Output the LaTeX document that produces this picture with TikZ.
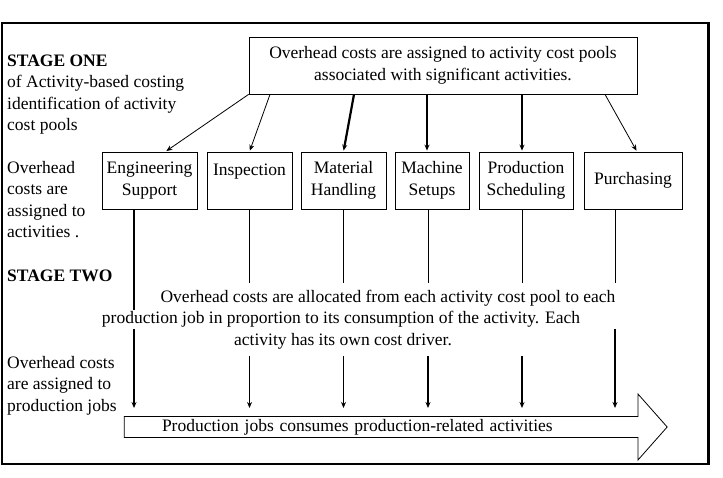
\documentclass[tikz,border=0pt]{standalone}
\usepackage{fontspec}
\setmainfont{Liberation Serif}
\usetikzlibrary{arrows.meta,shapes.arrows}

\begin{document}
\begin{tikzpicture}[->,>={Stealth[length=6pt,width=5pt]},x=1pt,y=-1pt,
  font=\fontsize{17.5}{21.5}\selectfont,
  box/.style={draw,-,line width=0.8pt,align=center,minimum height=57pt,inner sep=1pt},
  side text/.style={align=left,anchor=base west,inner sep=0pt},
  line text/.style={anchor=base,inner sep=1pt},
  thin arrow/.style={line width=0.8pt,shorten >=1pt},
  thick arrow/.style={line width=2.2pt,shorten >=1pt},
  upper line/.style={-,line width=0.8pt,shorten >=6pt},
  lower arrow/.style={line width=1.6pt,shorten <=6pt,shorten >=19pt}]

  \useasboundingbox (0,0) rectangle (723,478);
  \draw[-,line width=1.2pt] (2,23) rectangle (709,464);
  \draw[-,line width=2.6pt] (708,23) -- (708,464);

  \node[box,minimum width=388pt] (pool) at (443,65.5) {Overhead costs are assigned to activity cost pools\\associated with significant activities.};

  \node[box,minimum width=95pt] (eng) at (149.5,180.5) {Engineering\\Support};
  \node[box,minimum width=85pt] (insp) at (249.5,180.5) {Inspection\\\mbox{}};
  \node[box,minimum width=85pt] (mat) at (343.5,180.5) {Material\\Handling};
  \node[box,minimum width=74pt] (mach) at (432,180.5) {Machine\\Setups};
  \node[box,minimum width=94pt] (prod) at (526,180.5) {Production\\Scheduling};
  \node[box,minimum width=98pt] (purch) at (633,180.5) {Purchasing};

  % base anchor sits on the last line
  \node[side text] (stage1) at (7,131) {\textbf{STAGE ONE}\\of Activity-based costing\\identification of activity\\cost pools};
  \node[side text] (toacts) at (7,238) {Overhead\\costs are\\assigned to\\activities .};
  \node[side text] (stage2) at (7,282) {\textbf{STAGE TWO}};
  \node[side text] (tojobs) at (7,411) {Overhead costs\\are assigned to\\production jobs};

  \node[line text] (allocA) at (388,303) {Overhead costs are allocated from each activity cost pool to each};
  \node[line text] (allocB) at (341,324) {production job in proportion to its consumption of the activity. Each};
  \node[line text] (allocC) at (343,345) {activity has its own cost driver.};

  \node[single arrow,draw,-,line width=0.8pt,minimum height=543pt,minimum width=66pt,
    single arrow head extend=22pt,single arrow tip angle=97,inner sep=2pt,
    text width=458pt,align=left] (jobs) at (391,427) {Production jobs consumes production-related activities};

  % stage one
  \path[thin arrow]
    (pool.south west) edge ([xshift=16pt]eng.north)
    ([xshift=-173pt]pool.south) edge (insp.north)
    ([xshift=162pt]pool.south) edge ([xshift=4pt]purch.north);
  \path[thick arrow]
    ([xshift=-89pt]pool.south) edge (mat.north)
    ([xshift=-16pt]pool.south) edge ([xshift=-5pt]mach.north)
    ([xshift=79pt]pool.south) edge ([xshift=-4pt]prod.north);

  % stage two
  \path[upper line]
    (insp.south) edge (insp.south |- allocA.north)
    (mat.south) edge (mat.south |- allocA.north)
    ([xshift=-4pt]mach.south) edge ([xshift=-4pt]mach.south |- allocA.north)
    ([xshift=-4pt]prod.south) edge ([xshift=-4pt]prod.south |- allocA.north)
    ([xshift=-18pt]purch.south) edge ([xshift=-18pt]purch.south |- allocA.north);
  \draw[-,line width=1.6pt] ([xshift=-15.5pt]eng.south) -- ([xshift=-15.5pt]eng.south |- allocB.north);
  \path[lower arrow]
    ([xshift=-15.5pt]eng.south |- allocB.south) edge[shorten <=0pt] ([xshift=-15.5pt]eng.south |- jobs.center)
    (insp.south |- allocC.south) edge (insp.south |- jobs.center)
    (mat.south |- allocC.south) edge (mat.south |- jobs.center)
    ([xshift=-4pt]mach.south |- allocC.south) edge ([xshift=-4pt]mach.south |- jobs.center)
    ([xshift=-4pt]prod.south |- allocC.south) edge ([xshift=-4pt]prod.south |- jobs.center)
    ([xshift=-18pt]purch.south |- allocB.south) edge[shorten <=0pt] ([xshift=-18pt]purch.south |- jobs.center);
\end{tikzpicture}
\end{document}
